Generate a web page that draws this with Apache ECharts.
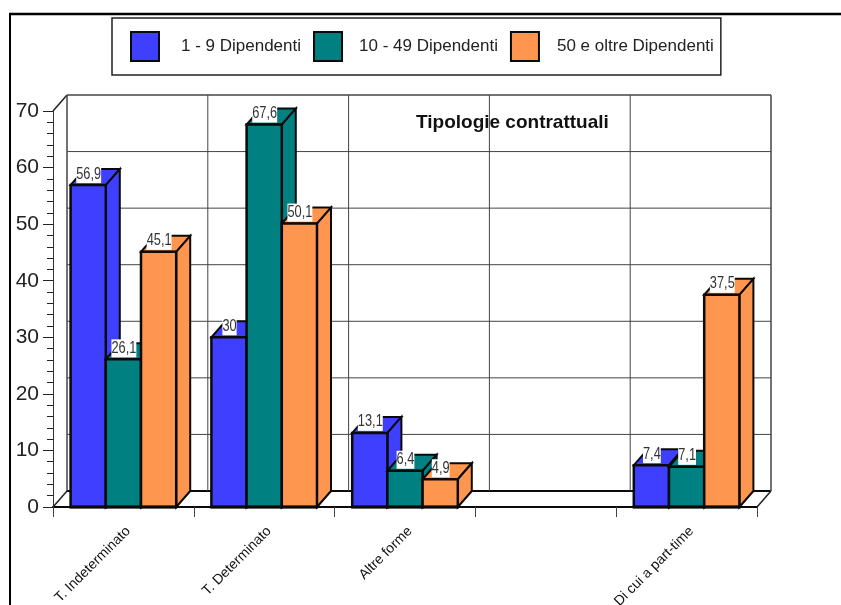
<!DOCTYPE html>
<html><head><meta charset="utf-8">
<style>html,body{margin:0;padding:0;background:#fff}#c{width:841px;height:605px}</style>
<script src="https://cdn.jsdelivr.net/npm/echarts@6/dist/echarts.min.js"></script>
</head><body><div id="c"></div>
<script>
const categories = ['T. Indeterminato', 'T. Determinato', 'Altre forme', '', 'Di cui a part-time'];
const small = [56.9, 30, 13.1, null, 7.4];
const medium = [26.1, 67.6, 6.4, null, 7.1];
const large = [45.1, 50.1, 4.9, null, 37.5];
const seriesNames = ['1 - 9 Dipendenti', '10 - 49 Dipendenti', '50 e oltre Dipendenti'];
const valueTicks = [0, 10, 20, 30, 40, 50, 60, 70];
const colors = ['#3f3fff', '#008080', '#ff9650'];
const legendTextGaps = [17, 12, 13];
const DX = 14, DY = -16;
const FONT = '"Liberation Sans",sans-serif';
const chart = echarts.init(document.getElementById('c'), null, {renderer:'canvas'});

function barRender(idx){
  return function(params, api){
    const v = api.value(1);
    if (v == null || isNaN(v)) return null;
    const c = api.value(0);
    const band = api.size([1,0])[0];
    const w = band/4;
    const top = api.coord([c, v]);
    const bot = api.coord([c, 0]);
    const x0 = top[0] + (idx-1.5)*w, x1 = x0 + w;
    const yt = top[1], yb = bot[1];
    const fill = api.visual('color');
    const line = {stroke:'#0a0a0a', lineWidth:2, lineJoin:'miter'};
    return {type:'group', children:[
      {type:'polygon', shape:{points:[[x0,yt],[x1,yt],[x1+DX,yt+DY],[x0+DX,yt+DY]]}, style:Object.assign({fill:fill},line)},
      {type:'polygon', shape:{points:[[x1,yt],[x1+DX,yt+DY],[x1+DX,yb+DY],[x1,yb]]}, style:Object.assign({fill:fill},line)},
      {type:'rect', shape:{x:x0,y:yt,width:w,height:yb-yt}, style:Object.assign({fill:fill},{stroke:'#0a0a0a',lineWidth:2.5})},
      {type:'line', shape:{x1:x0-1,y1:yb,x2:x1+1,y2:yb}, style:{stroke:'#0a0a0a',lineWidth:3}},
      {type:'text', x:(x0+x1)/2+0.5, y:yt-2, scaleX:0.8, style:{
        text:String(v).replace('.',','), fill:'#333', font:'16px '+FONT,
        align:'center', verticalAlign:'bottom', backgroundColor:'#fff', lineHeight:18
      }}
    ]};
  };
}
function barSeries(i, arr){
  return {
    type:'custom', name:seriesNames[i], coordinateSystem:'cartesian2d', clip:false, z:5+i,
    itemStyle:{color:colors[i], borderColor:'#0a0a0a', borderWidth:2},
    renderItem:barRender(i),
    encode:{x:0,y:1},
    data:arr.map((v,c)=>[c, v===null?'-':v])
  };
}
const option = {
  animation:false,
  backgroundColor:'#fff',
  title:{text:'Tipologie contrattuali', left:411, top:108,
    textStyle:{fontFamily:FONT, fontWeight:'bold', fontSize:19, color:'#111'}, z:20},
  legend:{
    data:seriesNames.map((n,i)=>({name:n, textStyle:{padding:[0,0,0,legendTextGaps[i]]}})),
    left:112, top:18, orient:'horizontal',
    padding:[13,7,13,18], itemWidth:28, itemHeight:29, itemGap:12,
    icon:'rect', borderColor:'#222', borderWidth:1.5, backgroundColor:'#fff',
    selectedMode:false,
    textStyle:{fontFamily:FONT, fontSize:17, color:'#222'}
  },
  grid:{left:53, right:84, top:111, bottom:98, outerBoundsMode:'none'},
  xAxis:{type:'category', data:categories, boundaryGap:true,
    axisLine:{lineStyle:{color:'#0a0a0a',width:2}},
    axisTick:{show:true, length:10, alignWithLabel:false, lineStyle:{color:'#444',width:1}},
    axisLabel:{rotate:45, interval:0, margin:17, verticalAlign:'top', fontFamily:FONT, fontSize:14, color:'#111'},
    splitLine:{show:false}
  },
  yAxis:{type:'value', min:0, max:70, interval:10,
    axisLine:{show:true, lineStyle:{color:'#333',width:1}},
    axisTick:{show:true, length:10, lineStyle:{color:'#222',width:1}},
    minorTick:{show:true, splitNumber:5, length:6, lineStyle:{color:'#222',width:1}},
    axisLabel:{margin:14, fontFamily:FONT, fontSize:21, color:'#222'},
    splitLine:{show:false}
  },
  graphic:[
    {type:'line', z:-1, silent:true, shape:{x1:10,y1:13,x2:10,y2:605}, style:{stroke:'#000', lineWidth:2}},
    {type:'line', z:-1, silent:true, shape:{x1:9,y1:14,x2:841,y2:14}, style:{stroke:'#000', lineWidth:2.5}}
  ],
  series:[
    {type:'custom', coordinateSystem:'cartesian2d', clip:false, z:1, name:'gridH',
     encode:{y:0}, data:valueTicks.map(v=>[v]),
     renderItem(params, api){
       const cs = params.coordSys, v = api.value(0);
       const y = api.coord([0, v])[1] + DY;
       const floor = v === 0, top = v === 70;
       const ch = [{type:'line', shape:{x1:cs.x+DX,y1:y,x2:cs.x+cs.width+DX,y2:y},
         style:{stroke: floor?'#0a0a0a':'#444', lineWidth: floor?2:(top?1.5:1)}}];
       if (floor || top) {
         ch.push({type:'line', shape:{x1:cs.x,y1:y-DY,x2:cs.x+DX,y2:y}, style:{stroke:'#222',lineWidth:1.5}});
       }
       if (floor) {
         ch.push({type:'line', shape:{x1:cs.x+cs.width,y1:y-DY,x2:cs.x+cs.width+DX,y2:y}, style:{stroke:'#222',lineWidth:1.5}});
       }
       return {type:'group', children:ch};
     }},
    {type:'custom', coordinateSystem:'cartesian2d', clip:false, z:1, name:'gridV',
     encode:{x:0}, data:[0,1,2,3,4,5].map(i=>[i]),
     renderItem(params, api){
       const cs = params.coordSys, i = api.value(0);
       const x = cs.x + i*cs.width/categories.length + DX;
       const edge = i === 0 || i === categories.length;
       return {type:'line', shape:{x1:x,y1:cs.y+DY,x2:x,y2:cs.y+cs.height+DY},
         style:{stroke:'#444',lineWidth:edge?1.5:1}};
     }},
    barSeries(0, small), barSeries(1, medium), barSeries(2, large)
  ]
};
chart.setOption(option);
</script></body></html>
